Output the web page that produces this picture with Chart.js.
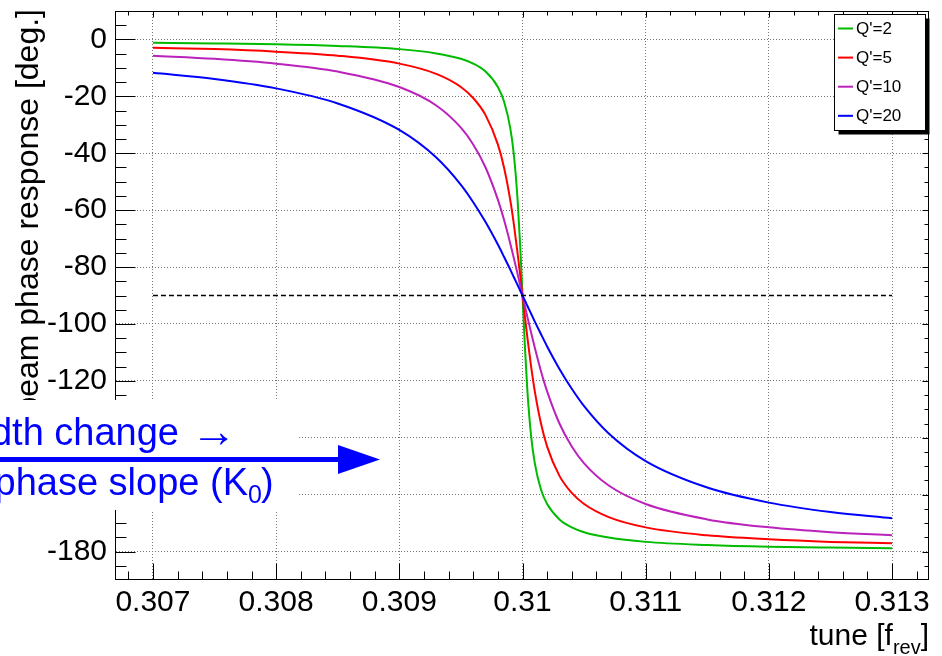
<!DOCTYPE html>
<html>
<head>
<meta charset="utf-8">
<script src="https://cdn.jsdelivr.net/npm/chart.js@4.4.0/dist/chart.umd.min.js"></script>
<style>
  html, body { margin: 0; padding: 0; background: #fff; }
  #wrap { width: 942px; height: 656px; }
</style>
</head>
<body>
<div id="wrap"><canvas id="phaseChart" width="942" height="656"></canvas></div>
<script>
// tune in units of f_rev
var tune = [0.307, 0.3075, 0.308, 0.3085, 0.309, 0.3093, 0.3095, 0.3096, 0.3097, 0.3098,
            0.30985, 0.3099, 0.30993, 0.30996, 0.30998, 0.31,
            0.31002, 0.31004, 0.31007, 0.3101, 0.31015, 0.3102, 0.3103, 0.3104, 0.3105,
            0.3107, 0.311, 0.3115, 0.312, 0.3125, 0.313];

// beam phase response [deg.]
var phaseQ2 = [-1.2, -1.4, -1.7, -2.3, -3.4, -4.9, -6.8, -8.5, -11.3, -16.7,
               -21.8, -31.0, -40.6, -56.3, -71.6, -90,
               -108.4, -123.7, -139.4, -149.0, -158.2, -163.3, -168.7, -171.5, -173.2,
               -175.1, -176.6, -177.7, -178.3, -178.6, -178.8];
var phaseQ5 = [-2.9, -3.4, -4.3, -5.7, -8.5, -12.1, -16.7, -20.6, -26.6, -36.9,
               -45.0, -56.3, -65.0, -75.1, -82.4, -90,
               -97.6, -104.9, -115.0, -123.7, -135.0, -143.1, -153.4, -159.4, -163.3,
               -167.9, -171.5, -174.3, -175.7, -176.6, -177.1];
var phaseQ10 = [-5.7, -6.8, -8.5, -11.3, -16.7, -23.2, -31.0, -36.9, -45.0, -56.3,
                -63.4, -71.6, -76.9, -82.4, -86.2, -90,
                -93.8, -97.6, -103.1, -108.4, -116.6, -123.7, -135.0, -143.1, -149.0,
                -156.8, -163.3, -168.7, -171.5, -173.2, -174.3];
var phaseQ20 = [-11.7, -13.9, -17.2, -22.5, -31.8, -41.5, -51.1, -57.2, -64.2, -72.1,
                -76.4, -80.8, -83.6, -86.3, -88.2, -90,
                -91.8, -93.7, -96.4, -99.2, -103.6, -107.9, -115.8, -122.8, -128.9,
                -138.5, -148.2, -157.5, -162.8, -166.1, -168.3];

// dashed -90 deg reference
var refTune = [0.307, 0.313];
var refPhase = [-90, -90];

var seriesNames = ["Q'=2", "Q'=5", "Q'=10", "Q'=20"];
var seriesColors = ["#00bb00", "#ff0000", "#bb22bb", "#0000ff"];

var xTicks = [0.307, 0.308, 0.309, 0.31, 0.311, 0.312, 0.313];
var xTickLabels = ["0.307", "0.308", "0.309", "0.31", "0.311", "0.312", "0.313"];
var yTicks = [0, -20, -40, -60, -80, -100, -120, -140, -160, -180];
var yTickLabels = ["0", "-20", "-40", "-60", "-80", "-100", "-120", "-140", "-160", "-180"];

var FONT = "'Liberation Sans', Arial, sans-serif";

function toPoints(xs, ys) {
  return xs.map(function (x, i) { return { x: x, y: ys[i] }; });
}

function curve(idx, values) {
  return {
    label: seriesNames[idx],
    data: toPoints(tune, values),
    borderColor: seriesColors[idx],
    borderWidth: 2,
    pointRadius: 0,
    fill: false,
    cubicInterpolationMode: "monotone",
    order: 4 - idx
  };
}

function line(ctx, x1, y1, x2, y2) {
  ctx.beginPath();
  ctx.moveTo(x1, y1);
  ctx.lineTo(x2, y2);
  ctx.stroke();
}

// frame, inward ticks, titles, legend and the overlay note (ROOT look)
var rootDecor = {
  id: "rootDecor",
  afterDraw: function (chart) {
    var ctx = chart.ctx, a = chart.chartArea;
    var xs = chart.scales.x, ys = chart.scales.y;
    var L = Math.round(a.left) - 0.5, R = Math.round(a.right) - 0.5;
    var T = Math.round(a.top) + 0.5, B = Math.round(a.bottom) - 0.5;
    ctx.save();
    ctx.strokeStyle = "#000";
    ctx.lineWidth = 1;
    ctx.strokeRect(L, T, R - L, B - T);

    var i, v, p;
    // x ticks
    for (i = 0; i <= 32; i++) {
      v = 0.3068 + i * 0.0002;
      p = Math.round(xs.getPixelForValue(v)) + 0.5;
      line(ctx, p, B, p, B - 8);
      line(ctx, p, T, p, T + 4);
    }
    xTicks.forEach(function (t) {
      var px = Math.round(xs.getPixelForValue(t)) + 0.5;
      line(ctx, px, B, px, B - 16);
      line(ctx, px, T, px, T + 6);
    });
    // y ticks
    for (v = -185; v <= 5; v += 5) {
      p = Math.round(ys.getPixelForValue(v)) + 0.5;
      line(ctx, L, p, L + 11, p);
      line(ctx, R, p, R - 4, p);
    }
    yTicks.forEach(function (t) {
      var py = Math.round(ys.getPixelForValue(t)) + 0.5;
      line(ctx, L, py, L + 20, py);
      line(ctx, R, py, R - 6, py);
    });

    // axis titles
    ctx.fillStyle = "#000";
    ctx.font = "32px " + FONT;
    ctx.textBaseline = "alphabetic";
    ctx.save();
    ctx.translate(38, 9);
    ctx.rotate(-Math.PI / 2);
    ctx.textAlign = "right";
    ctx.fillText("beam phase response [deg.]", 0, 0);
    ctx.restore();

    ctx.textAlign = "left";
    ctx.font = "30px " + FONT;
    var w1 = ctx.measureText("tune [f").width;
    var w3 = ctx.measureText("]").width;
    ctx.font = "20px " + FONT;
    var w2 = ctx.measureText("rev").width;
    var sx = 929 - (w1 + w2 + w3);
    ctx.font = "30px " + FONT;
    ctx.fillText("tune [f", sx, 645);
    ctx.fillText("]", sx + w1 + w2, 645);
    ctx.font = "20px " + FONT;
    ctx.fillText("rev", sx + w1, 654);

    // legend box with shadow
    var lx = 834.5, ly = 14.5, lw = 91, lh = 116;
    ctx.fillStyle = "#000";
    ctx.fillRect(lx + 4, ly + 4, lw, lh);
    ctx.fillStyle = "#fff";
    ctx.fillRect(lx, ly, lw, lh);
    ctx.strokeStyle = "#000";
    ctx.strokeRect(lx, ly, lw, lh);
    ctx.font = "17px " + FONT;
    ctx.textBaseline = "middle";
    seriesNames.forEach(function (name, k) {
      var yy = 28.5 + k * 29.1;
      ctx.strokeStyle = seriesColors[k];
      ctx.lineWidth = 2;
      line(ctx, 838, yy, 853, yy);
      ctx.fillStyle = "#000";
      ctx.fillText(name, 856, yy + 1);
    });

    // overlay note covering part of the axis
    ctx.fillStyle = "#fff";
    ctx.fillRect(0, 400, 298, 110);
    ctx.fillStyle = "#0000ff";
    ctx.strokeStyle = "#0000ff";
    ctx.lineWidth = 5;
    line(ctx, 0, 459.5, 342, 459.5);
    ctx.beginPath();
    ctx.moveTo(338, 445);
    ctx.lineTo(380, 459.5);
    ctx.lineTo(338, 474);
    ctx.closePath();
    ctx.fill();
    ctx.textBaseline = "alphabetic";
    ctx.textAlign = "right";
    ctx.font = "38px " + FONT;
    ctx.fillText("width change", 179, 445);
    ctx.fillText("phase slope (K", 248, 495);
    ctx.textAlign = "left";
    ctx.font = "46px " + FONT;
    ctx.fillText("\u2192", 191, 447);
    ctx.font = "25px " + FONT;
    ctx.fillText("0", 248, 503);
    ctx.font = "38px " + FONT;
    ctx.fillText(")", 261, 495);
    ctx.restore();
  }
};

var ctx = document.getElementById("phaseChart").getContext("2d");
var phaseChart = new Chart(ctx, {
  type: "line",
  data: {
    datasets: [
      curve(0, phaseQ2),
      curve(1, phaseQ5),
      curve(2, phaseQ10),
      curve(3, phaseQ20),
      {
        label: "ref",
        data: toPoints(refTune, refPhase),
        borderColor: "#000",
        borderWidth: 1.5,
        borderDash: [5, 3],
        pointRadius: 0,
        order: 0
      }
    ]
  },
  options: {
    responsive: false,
    animation: false,
    devicePixelRatio: 1,
    layout: { padding: { left: 0, top: 11, right: 13, bottom: 0 } },
    plugins: { legend: { display: false }, tooltip: { enabled: false } },
    scales: {
      x: {
        type: "linear",
        min: 0.3067,
        max: 0.3133,
        afterBuildTicks: function (scale) {
          scale.ticks = xTicks.map(function (v) { return { value: v }; });
        },
        afterFit: function (scale) {
          scale.height = 76;
          scale.paddingLeft = 0;
          scale.paddingRight = 0;
        },
        ticks: {
          autoSkip: false,
          maxRotation: 0,
          padding: 5,
          color: "#000",
          font: { family: FONT, size: 30 },
          callback: function (value) {
            var k = xTicks.findIndex(function (t) { return Math.abs(t - value) < 1e-7; });
            return k >= 0 ? xTickLabels[k] : "";
          }
        },
        grid: { color: "#777", lineWidth: 1, drawTicks: false },
        border: { display: false, dash: [1, 2] }
      },
      y: {
        type: "linear",
        min: -190,
        max: 10,
        afterBuildTicks: function (scale) {
          scale.ticks = yTicks.map(function (v) { return { value: v }; });
        },
        afterFit: function (scale) {
          scale.width = 116;
          scale.paddingTop = 0;
          scale.paddingBottom = 0;
        },
        ticks: {
          autoSkip: false,
          padding: 9,
          color: "#000",
          font: { family: FONT, size: 30 },
          callback: function (value) {
            var k = yTicks.indexOf(value);
            return k >= 0 ? yTickLabels[k] : "";
          }
        },
        grid: { color: "#777", lineWidth: 1, drawTicks: false },
        border: { display: false, dash: [1, 2] }
      }
    }
  },
  plugins: [rootDecor]
});
</script>
</body>
</html>
